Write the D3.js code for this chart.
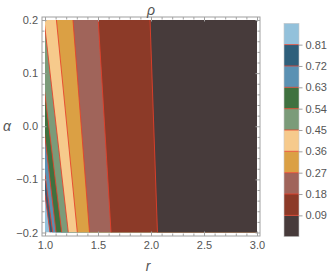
<!DOCTYPE html>
<html>
<head>
<meta charset="utf-8">
<script src="https://cdn.jsdelivr.net/npm/d3@7"></script>
<style>
  body { margin: 0; background: #fff; }
  text { font-family: "Liberation Sans", Arial, sans-serif; fill: #555; }
</style>
</head>
<body>
<svg id="chart" width="332" height="275"></svg>
<script>
// contour levels and the colour of the band below each level (last = above top level)
const levels = [0.09, 0.18, 0.27, 0.36, 0.45, 0.54, 0.63, 0.72, 0.81];
const bandColors = ["#473b3b", "#8c3a28", "#a0645a", "#dba044", "#f6ca8c",
                    "#7b9b79", "#3f713f", "#5a91b3", "#2e5f7b", "#93c1db"];
const startR = [1.991, 1.502, 1.264, 1.108, 1.0, 1.0, 1.0, 1.0, 1.0];
const startA = [0.2, 0.2, 0.2, 0.2, 0.184, 0.059, -0.020, -0.092, -0.129];
const endR = [2.061, 1.623, 1.420, 1.305, 1.220, 1.158, 1.104, 1.073, 1.047];
const endA = [-0.2, -0.2, -0.2, -0.2, -0.2, -0.2, -0.2, -0.2, -0.2];
const xTicks = [1.0, 1.5, 2.0, 2.5, 3.0];
const yTicks = [-0.2, -0.1, 0.0, 0.1, 0.2];
const barTicks = levels;

const svg = d3.select("#chart");
const x = d3.scaleLinear().domain([1, 3]).range([45, 257]);
const y = d3.scaleLinear().domain([-0.2, 0.2]).range([232.5, 20]);
const frame = { x0: 42, x1: 260, y0: 17, y1: 236 };

svg.append("clipPath").attr("id", "plot-clip")
  .append("rect")
  .attr("x", x(1)).attr("y", y(0.2))
  .attr("width", x(3) - x(1)).attr("height", y(-0.2) - y(0.2));

const plot = svg.append("g").attr("clip-path", "url(#plot-clip)");

// top band fills everything, then paint the region right of each contour, highest first
plot.append("rect")
  .attr("x", x(1)).attr("y", y(0.2))
  .attr("width", x(3) - x(1)).attr("height", y(-0.2) - y(0.2))
  .attr("fill", bandColors[levels.length]);

const contours = levels.map((lv, i) => {
  const lineR = d3.scaleLinear().domain([startA[i], endA[i]]).range([startR[i], endR[i]]);
  return { lv, i, rTop: lineR(0.2), rBot: lineR(-0.2) };
});

contours.slice().reverse().forEach((c) => {
  const pts = [[x(c.rTop), y(0.2)], [x(c.rBot), y(-0.2)], [x(3) + 5, y(-0.2)], [x(3) + 5, y(0.2)]];
  plot.append("path")
    .attr("d", "M" + pts.join("L") + "Z")
    .attr("fill", bandColors[c.i]);
});

plot.selectAll("line.contour")
  .data(contours)
  .join("line")
  .attr("class", "contour")
  .attr("x1", (d) => x(d.rTop)).attr("y1", y(0.2))
  .attr("x2", (d) => x(d.rBot)).attr("y2", y(-0.2))
  .attr("stroke", "#e8402a")
  .attr("stroke-width", 1)
  .attr("stroke-opacity", 0.85);

// frame
svg.append("rect")
  .attr("x", frame.x0).attr("y", frame.y0)
  .attr("width", frame.x1 - frame.x0).attr("height", frame.y1 - frame.y0)
  .attr("fill", "none").attr("stroke", "#a0a0a0").attr("stroke-width", 1);

const fmt = d3.format(".1f");
const xMinor = d3.range(1.1, 3.0, 0.1).filter((v) => Math.abs(v * 2 - Math.round(v * 2)) > 1e-6);
const yMinor = d3.range(-0.18, 0.2, 0.02).filter((v) => Math.abs(v * 10 - Math.round(v * 10)) > 1e-6);

function styleAxis(g) {
  g.select(".domain").remove();
  g.selectAll(".tick line").attr("stroke", "#a0a0a0");
  g.selectAll(".tick text").attr("fill", "#555").style("font-size", "11px");
}

svg.append("g").attr("transform", `translate(0,${frame.y1})`)
  .call(d3.axisBottom(x).tickValues(xTicks).tickFormat(fmt).tickSize(-4.5).tickPadding(5))
  .call(styleAxis);
svg.append("g").attr("transform", `translate(0,${frame.y1})`)
  .call(d3.axisBottom(x).tickValues(xMinor).tickFormat("").tickSize(-2.5))
  .call(styleAxis);
svg.append("g").attr("transform", `translate(0,${frame.y0})`)
  .call(d3.axisTop(x).tickValues(xTicks).tickFormat("").tickSize(-4.5))
  .call(styleAxis);
svg.append("g").attr("transform", `translate(0,${frame.y0})`)
  .call(d3.axisTop(x).tickValues(xMinor).tickFormat("").tickSize(-2.5))
  .call(styleAxis);

svg.append("g").attr("transform", `translate(${frame.x0},0)`)
  .call(d3.axisLeft(y).tickValues(yTicks).tickFormat(fmt).tickSize(-4.5).tickPadding(4))
  .call(styleAxis);
svg.append("g").attr("transform", `translate(${frame.x0},0)`)
  .call(d3.axisLeft(y).tickValues(yMinor).tickFormat("").tickSize(-2.5))
  .call(styleAxis);
svg.append("g").attr("transform", `translate(${frame.x1},0)`)
  .call(d3.axisRight(y).tickValues(yTicks).tickFormat("").tickSize(-4.5))
  .call(styleAxis);
svg.append("g").attr("transform", `translate(${frame.x1},0)`)
  .call(d3.axisRight(y).tickValues(yMinor).tickFormat("").tickSize(-2.5))
  .call(styleAxis);

// titles
svg.append("text").attr("x", 151).attr("y", 15).attr("text-anchor", "middle")
  .style("font-size", "14px").style("font-style", "italic").text("ρ");
svg.append("text").attr("x", 148).attr("y", 271).attr("text-anchor", "middle")
  .style("font-size", "14px").style("font-style", "italic").text("r");
svg.append("text").attr("x", 7).attr("y", 131).attr("text-anchor", "middle")
  .style("font-size", "14px").style("font-style", "italic").text("α");

// colour bar
const bar = svg.append("g");
const yb = d3.scaleLinear().domain([0, 0.9]).range([236.7, 23.3]);
const bandEdges = [0, ...levels, 0.9];
bar.selectAll("rect.band")
  .data(bandColors)
  .join("rect")
  .attr("class", "band")
  .attr("x", 284).attr("width", 15)
  .attr("y", (d, i) => yb(bandEdges[i + 1]))
  .attr("height", (d, i) => yb(bandEdges[i]) - yb(bandEdges[i + 1]))
  .attr("fill", (d) => d);
bar.selectAll("line.sep")
  .data(levels)
  .join("line")
  .attr("class", "sep")
  .attr("x1", 284).attr("x2", 299)
  .attr("y1", (d) => yb(d)).attr("y2", (d) => yb(d))
  .attr("stroke", "#e8402a").attr("stroke-opacity", 0.8);
bar.append("rect")
  .attr("x", 284).attr("y", yb(0.9)).attr("width", 15).attr("height", yb(0) - yb(0.9))
  .attr("fill", "none").attr("stroke", "#c8c8c8").attr("stroke-width", 0.6);
bar.append("g").attr("transform", "translate(299,0)")
  .call(d3.axisRight(yb).tickValues(barTicks).tickFormat(d3.format(".2f")).tickSize(3.5).tickPadding(3))
  .call(styleAxis);
</script>
</body>
</html>
